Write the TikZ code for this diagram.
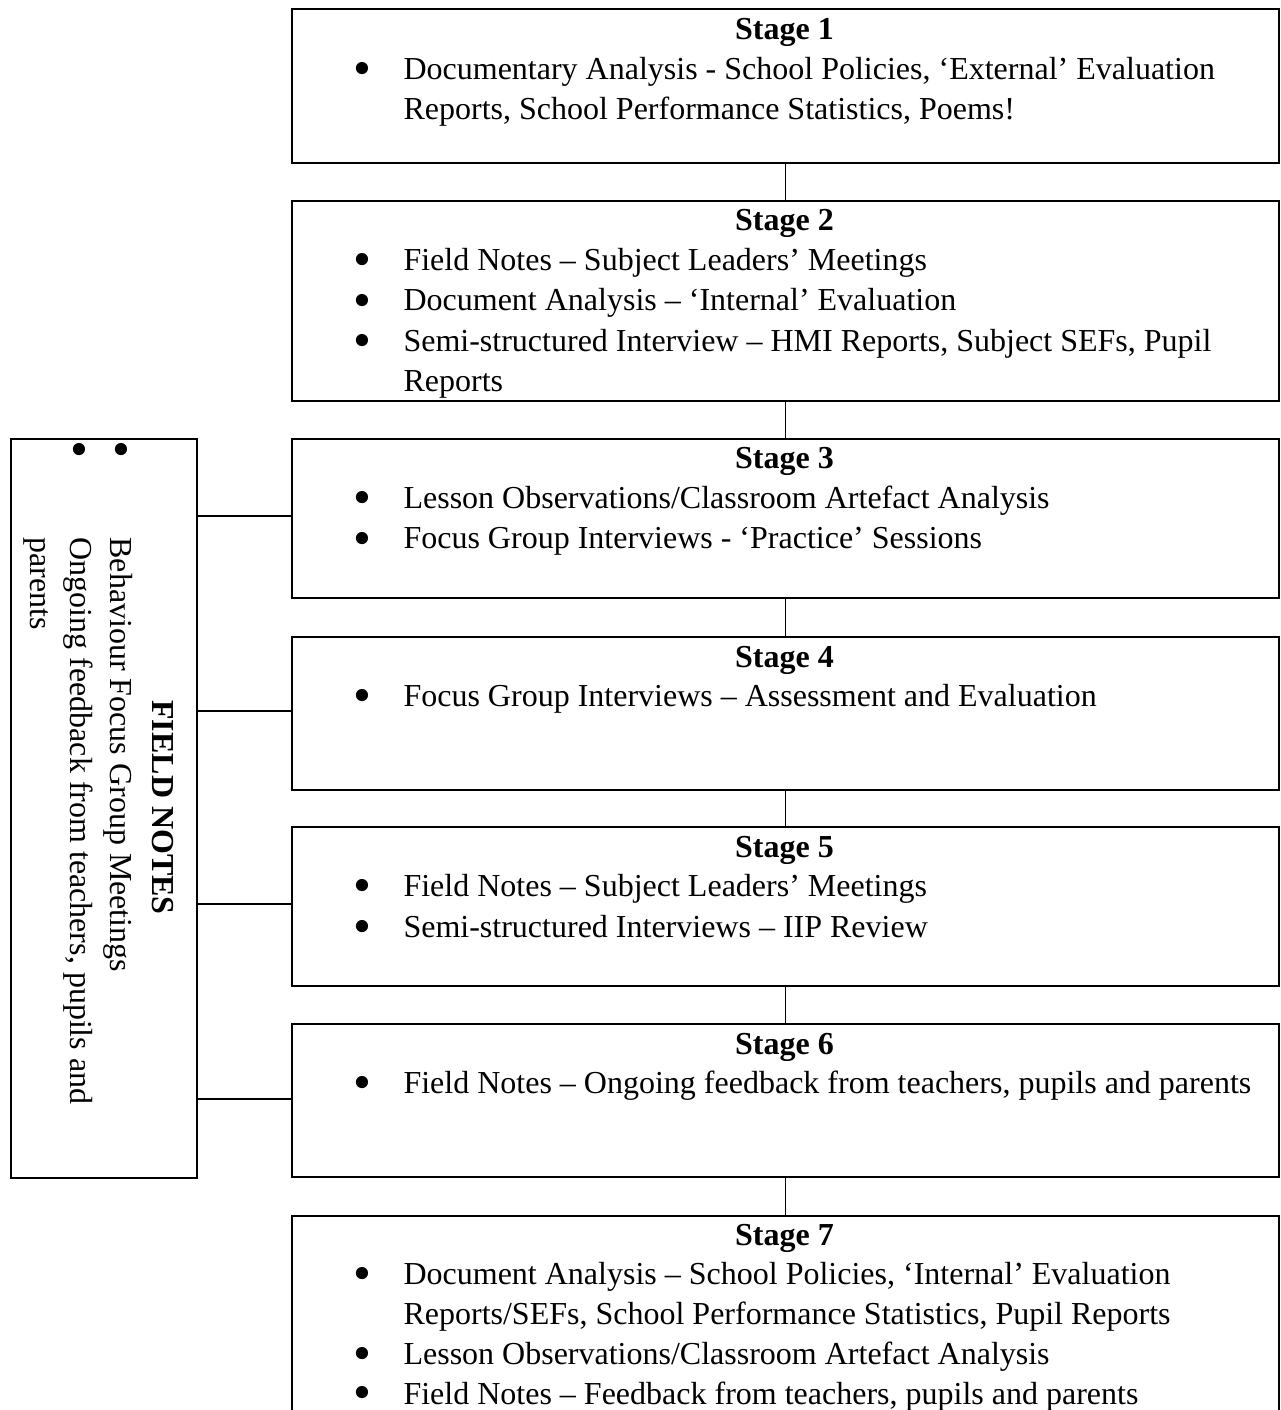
\documentclass[tikz,border=0pt]{standalone}
\usepackage{fontspec}
\setmainfont{Liberation Serif}
\newcommand\pxu{0.375}
\newcommand\bigbullet{\smash{\scalebox{1.6}{\textbullet}}}
\begin{document}
\begin{tikzpicture}[x=0.375pt,y=-0.375pt,
  stagebox/.style={draw, line width=0.8pt, rectangle, inner sep=0pt,
    anchor=north west, minimum width={987*\pxu pt}},
  sidebox/.style={draw, line width=0.8pt, rectangle, inner sep=0pt,
    anchor=north west, minimum width={186*\pxu pt}, minimum height={739*\pxu pt}},
  txt/.style={inner sep=0pt, font=\fontsize{12}{14}\selectfont},
  stagetitle/.style={txt, font=\fontsize{12}{14}\selectfont\bfseries, anchor=base},
  bodyline/.style={txt, anchor=base west},
  bul/.style={txt, anchor=base, yshift=-2.2pt},
  link/.style={line width=0.6pt}
]
\useasboundingbox (0,0) rectangle (1280,1410);
\clip (0,0) rectangle (1280,1410);

% stage boxes
\node[stagebox, minimum height={154*\pxu pt}] (s1) at (291,8) {};
\node[stagebox, minimum height={200*\pxu pt}] (s2) at (291,200) {};
\node[stagebox, minimum height={159*\pxu pt}] (s3) at (291,438) {};
\node[stagebox, minimum height={153*\pxu pt}] (s4) at (291,636) {};
\node[stagebox, minimum height={159*\pxu pt}] (s5) at (291,826) {};
\node[stagebox, minimum height={153*\pxu pt}] (s6) at (291,1023) {};
\node[stagebox, minimum height={240*\pxu pt}] (s7) at (291,1215) {};

% field notes box
\node[sidebox] (fn) at (10,438) {};

% stage 1
\node[stagetitle] (s1t) at (784.5,40) {Stage 1};
\node[bul] (s1b1) at (362,80) {\bigbullet};
\node[bodyline] (s1l1) at (403,79.5) {Documentary Analysis - School Policies, ‘External’ Evaluation};
\node[bodyline] (s1l2) at (403,120) {Reports, School Performance Statistics, Poems!};

% stage 2
\node[stagetitle] (s2t) at (784.5,231) {Stage 2};
\node[bul] (s2b1) at (362,271) {\bigbullet};
\node[bodyline] (s2l1) at (403,270.5) {Field Notes – Subject Leaders’ Meetings};
\node[bul] (s2b2) at (362,311.5) {\bigbullet};
\node[bodyline] (s2l2) at (403,311) {Document Analysis – ‘Internal’ Evaluation};
\node[bul] (s2b3) at (362,352) {\bigbullet};
\node[bodyline] (s2l3) at (403,351.5) {Semi-structured Interview – HMI Reports, Subject SEFs, Pupil};
\node[bodyline] (s2l4) at (403,392) {Reports};

% stage 3
\node[stagetitle] (s3t) at (784.5,469) {Stage 3};
\node[bul] (s3b1) at (362,509) {\bigbullet};
\node[bodyline] (s3l1) at (403,508.5) {Lesson Observations/Classroom Artefact Analysis};
\node[bul] (s3b2) at (362,549.5) {\bigbullet};
\node[bodyline] (s3l2) at (403,549) {Focus Group Interviews - ‘Practice’ Sessions};

% stage 4
\node[stagetitle] (s4t) at (784.5,667) {Stage 4};
\node[bul] (s4b1) at (362,707) {\bigbullet};
\node[bodyline] (s4l1) at (403,706.5) {Focus Group Interviews – Assessment and Evaluation};

% stage 5
\node[stagetitle] (s5t) at (784.5,857) {Stage 5};
\node[bul] (s5b1) at (362,897) {\bigbullet};
\node[bodyline] (s5l1) at (403,896.5) {Field Notes – Subject Leaders’ Meetings};
\node[bul] (s5b2) at (362,937.5) {\bigbullet};
\node[bodyline] (s5l2) at (403,937) {Semi-structured Interviews – IIP Review};

% stage 6
\node[stagetitle] (s6t) at (784.5,1054) {Stage 6};
\node[bul] (s6b1) at (362,1094) {\bigbullet};
\node[bodyline] (s6l1) at (403,1093.5) {Field Notes – Ongoing feedback from teachers, pupils and parents};

% stage 7
\node[stagetitle] (s7t) at (784.5,1245) {Stage 7};
\node[bul] (s7b1) at (362,1284.5) {\bigbullet};
\node[bodyline] (s7l1) at (403,1284) {Document Analysis – School Policies, ‘Internal’ Evaluation};
\node[bodyline] (s7l2) at (403,1324) {Reports/SEFs, School Performance Statistics, Pupil Reports};
\node[bul] (s7b2) at (362,1364.5) {\bigbullet};
\node[bodyline] (s7l3) at (403,1364) {Lesson Observations/Classroom Artefact Analysis};
\node[bul] (s7b3) at (362,1404) {\bigbullet};
\node[bodyline] (s7l4) at (403,1404) {Field Notes – Feedback from teachers, pupils and parents};

% field notes text, running downwards
\node[bul] (fnb1) at (79,461) {\bigbullet};
\node[bul] (fnb2) at (121,461) {\bigbullet};
\node[stagetitle, rotate=-90] (fnt) at (152,807.5) {FIELD NOTES};
\node[bodyline, rotate=-90] (fnl1) at (110,537) {Behaviour Focus Group Meetings};
\node[bodyline, rotate=-90] (fnl2) at (70,537) {Ongoing feedback from teachers, pupils and};
\node[bodyline, rotate=-90] (fnl3) at (30,537) {parents};

% stage sequence
\draw[link] (s1.south) -- (s2.north);
\draw[link] (s2.south) -- (s3.north);
\draw[link] (s3.south) -- (s4.north);
\draw[link] (s4.south) -- (s5.north);
\draw[link] (s5.south) -- (s6.north);
\draw[link] (s6.south) -- (s7.north);

% field notes links
\draw[link, transform canvas={yshift=1pt}] (fn.east |- s3.west) -- (s3.west);
\draw[link, transform canvas={yshift=1pt}] (fn.east |- s4.west) -- (s4.west);
\draw[link, transform canvas={yshift=1pt}] (fn.east |- s5.west) -- (s5.west);
\draw[link, transform canvas={yshift=0.5pt}] (fn.east |- s6.west) -- (s6.west);
\end{tikzpicture}
\end{document}
